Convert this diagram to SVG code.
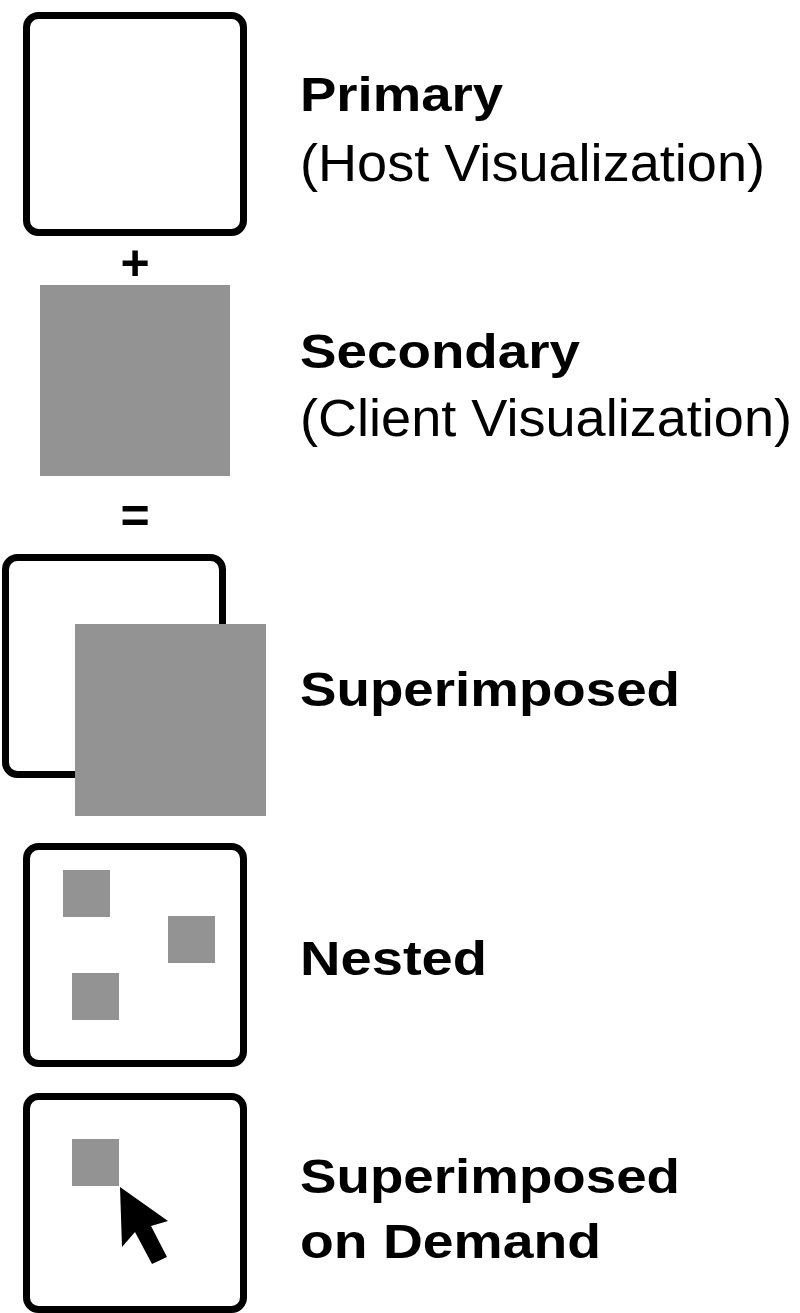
<svg xmlns="http://www.w3.org/2000/svg" width="800" height="1313" viewBox="0 0 800 1313">
<style>
.frame{fill:#fff;stroke:#000;stroke-width:7}
.gray{fill:#939393}
.b{font-family:"Liberation Sans",Arial,sans-serif;font-weight:bold;font-size:49px;fill:#000}
.r{font-family:"Liberation Sans",Arial,sans-serif;font-size:51px;fill:#000}
.op{font-family:"Liberation Sans",Arial,sans-serif;font-weight:bold;font-size:50px;fill:#000;text-anchor:middle}
</style>
<rect width="800" height="1313" fill="#fff"/>
<g id="primary">
<rect class="frame" x="26.5" y="15.5" width="217" height="217" rx="12"/>
<text class="b" x="300" y="111" textLength="203" lengthAdjust="spacingAndGlyphs">Primary</text>
<text class="r" x="300" y="181" textLength="465" lengthAdjust="spacingAndGlyphs">(Host Visualization)</text>
</g>
<g id="plus"><text class="op" x="135" y="280">+</text></g>
<g id="secondary">
<rect class="gray" x="40" y="285" width="190" height="191"/>
<text class="b" x="300" y="368" textLength="280" lengthAdjust="spacingAndGlyphs">Secondary</text>
<text class="r" x="300" y="436" textLength="492" lengthAdjust="spacingAndGlyphs">(Client Visualization)</text>
</g>
<g id="equals"><text class="op" x="135" y="533">=</text></g>
<g id="superimposed">
<rect class="frame" x="5.5" y="557.5" width="217" height="217" rx="12"/>
<rect class="gray" x="75" y="624" width="191" height="192"/>
<text class="b" x="300" y="706" textLength="380" lengthAdjust="spacingAndGlyphs">Superimposed</text>
</g>
<g id="nested">
<rect class="frame" x="26.5" y="846.5" width="217" height="217" rx="12"/>
<rect class="gray" x="63" y="870" width="47" height="47"/>
<rect class="gray" x="168" y="916" width="47" height="47"/>
<rect class="gray" x="72" y="973" width="47" height="47"/>
<text class="b" x="300" y="975" textLength="187" lengthAdjust="spacingAndGlyphs">Nested</text>
</g>
<g id="on-demand">
<rect class="frame" x="26.5" y="1096.5" width="217" height="213" rx="12"/>
<rect class="gray" x="72" y="1139" width="47" height="47"/>
<polygon points="120,1187 122,1247 135,1232 152,1264 167,1257 151,1226 168,1221" fill="#000"/>
<text class="b" x="300" y="1193" textLength="380" lengthAdjust="spacingAndGlyphs">Superimposed</text>
<text class="b" x="300" y="1258" textLength="301" lengthAdjust="spacingAndGlyphs">on Demand</text>
</g>
<g id="connectors"/>
</svg>
